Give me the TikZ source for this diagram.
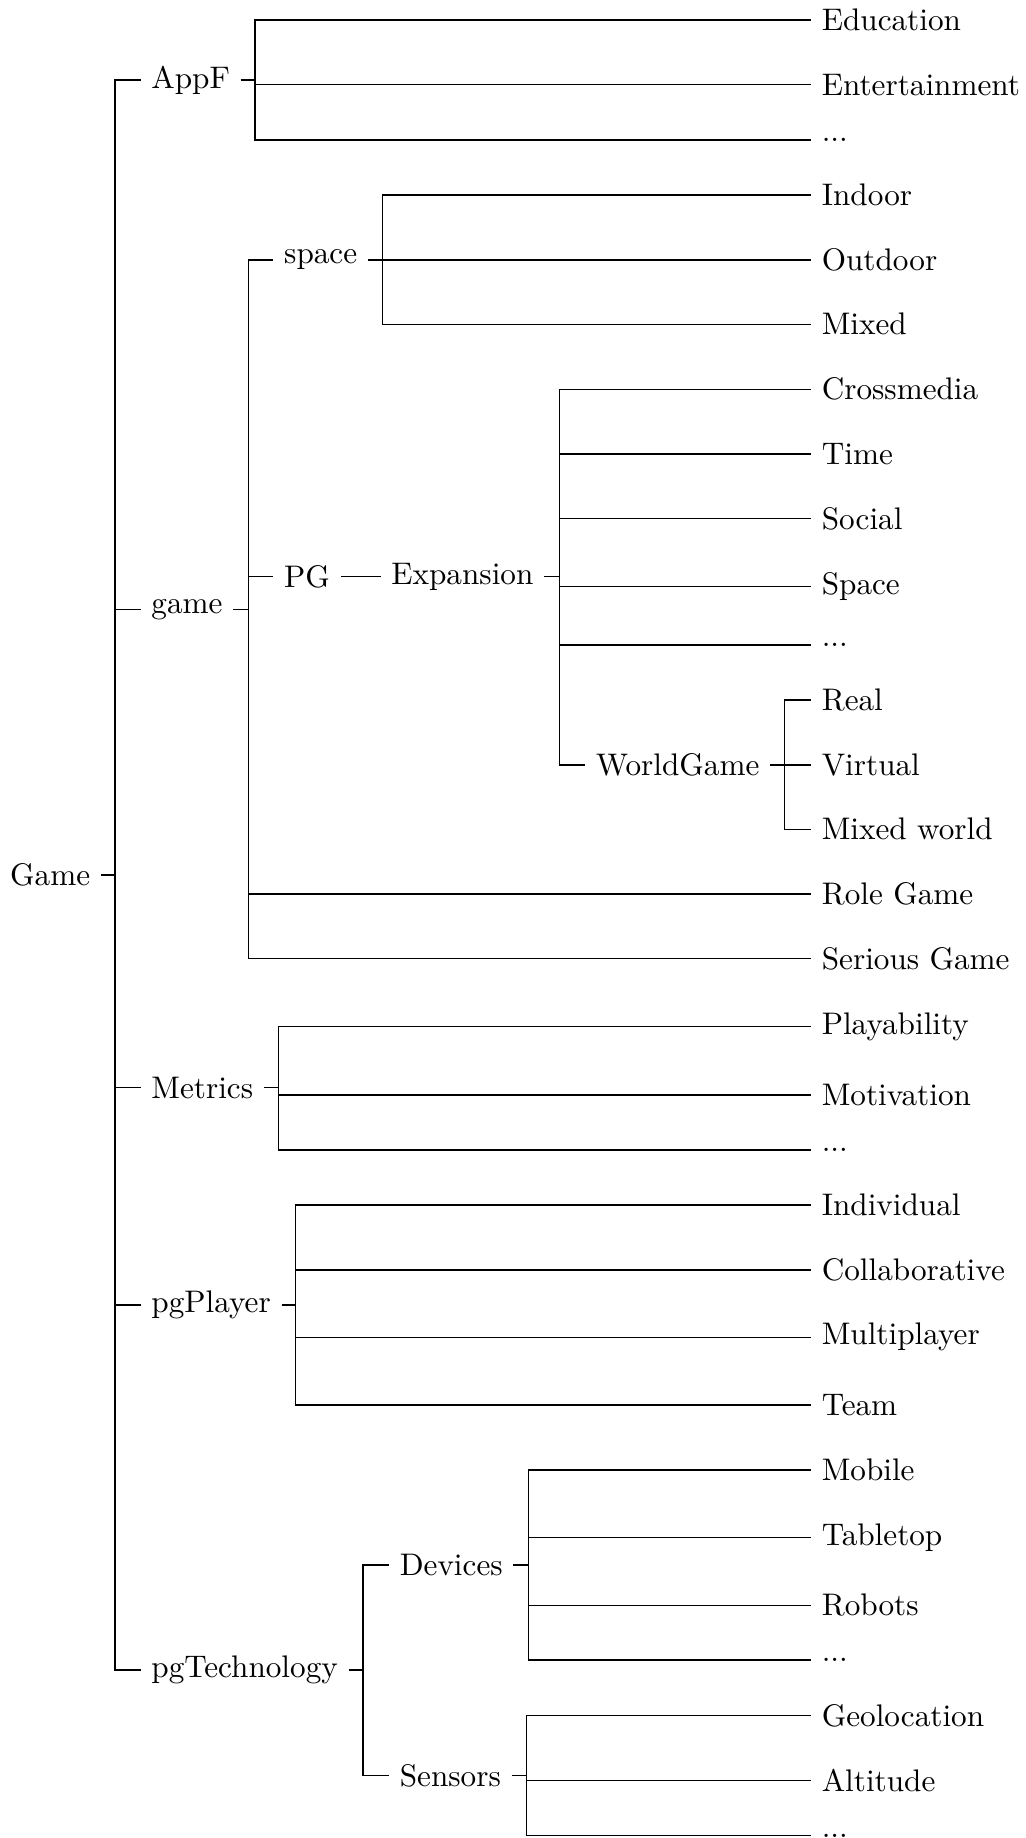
\documentclass[tikz,border=0pt]{standalone}
\begin{document}
\begin{tikzpicture}[x=0.3268pt, y=-0.3268pt,
  font=\fontsize{10.2}{12.2}\selectfont,
  lbl/.style={anchor=west, inner sep=3.33pt},
  link/.style={draw=black, line width=0.4pt}]
\useasboundingbox (0,0) rectangle (1025,1838);

% root
\node[anchor=east, inner sep=3.33pt] (root) at (101,875) {Game};
\coordinate (bRoot) at (115,875);

% first level
\node[lbl] (appf)   at (140.6,80)     {AppF};
\node[lbl] (gamen)  at (140.6,609.3)  {game};
\node[lbl] (metr)   at (140.6,1087.7) {Metrics};
\node[lbl] (player) at (140.6,1305)   {pgPlayer};
\node[lbl] (tech)   at (140.6,1670)   {pgTechnology};

% AppF
\coordinate (bAppf) at (255,80);
\node[lbl] (edu)  at (811,20)    {Education};
\node[lbl] (ent)  at (811,84.7)  {Entertainment};
\node[lbl] (appd) at (811,140)   {...};

% game
\coordinate (bGame) at (248.5,609.3);
\node[lbl] (space) at (273.4,260)   {space};
\node[lbl] (pg)    at (273.4,576.7) {PG};
\node[lbl] (role)  at (811,894)     {Role Game};
\node[lbl] (ser)   at (811,958.7)   {Serious Game};

% space
\coordinate (bSpace) at (382.6,260);
\node[lbl] (indoor)  at (811,195)   {Indoor};
\node[lbl] (outdoor) at (811,260)   {Outdoor};
\node[lbl] (mixed)   at (811,324.3) {Mixed};

% PG / Expansion
\node[lbl] (exp) at (380.6,576.7) {Expansion};
\coordinate (bExp) at (559.8,576.7);
\node[lbl] (cross)  at (811,389.3) {Crossmedia};
\node[lbl] (time)   at (811,454)   {Time};
\node[lbl] (social) at (811,518.7) {Social};
\node[lbl] (spc)    at (811,586.7) {Space};
\node[lbl] (expd)   at (811,645)   {...};
\node[lbl] (world)  at (585.3,765) {WorldGame};

% WorldGame
\coordinate (bWorld) at (784.5,765);
\node[lbl] (real)    at (811,700)   {Real};
\node[lbl] (virtual) at (811,765)   {Virtual};
\node[lbl] (mworld)  at (811,829.3) {Mixed world};

% Metrics
\coordinate (bMetr) at (278.6,1087.7);
\node[lbl] (play)  at (811,1026.7) {Playability};
\node[lbl] (motiv) at (811,1095)   {Motivation};
\node[lbl] (metd)  at (811,1150)   {...};

% pgPlayer
\coordinate (bPlayer) at (295.6,1305);
\node[lbl] (indiv)  at (811,1205)   {Individual};
\node[lbl] (collab) at (811,1270)   {Collaborative};
\node[lbl] (multi)  at (811,1337.3) {Multiplayer};
\node[lbl] (team)   at (811,1405)   {Team};

% pgTechnology
\coordinate (bTech) at (363,1670);
\node[lbl] (dev)  at (389,1565)   {Devices};
\node[lbl] (sens) at (389,1775.7) {Sensors};

% Devices
\coordinate (bDev) at (528.5,1565);
\node[lbl] (mobile) at (811,1470)   {Mobile};
\node[lbl] (table)  at (811,1537.7) {Tabletop};
\node[lbl] (robots) at (811,1605.3) {Robots};
\node[lbl] (devd)   at (811,1660)   {...};

% Sensors
\coordinate (bSens) at (526.5,1775.7);
\node[lbl] (geo)  at (811,1715.7) {Geolocation};
\node[lbl] (alt)  at (811,1780.7) {Altitude};
\node[lbl] (send) at (811,1835.7) {...};

% connectors: parent stub to its bus, then bus to each child
\draw[link] (root.east) -- (bRoot);
\foreach \c in {appf,gamen,metr,player,tech} \draw[link] (bRoot) |- (\c.west);

\draw[link] (appf.east) -- (bAppf);
\foreach \c in {edu,ent,appd} \draw[link] (bAppf) |- (\c.west);

\draw[link] (gamen.east) -- (bGame);
\foreach \c in {space,pg,role,ser} \draw[link] (bGame) |- (\c.west);

\draw[link] (space.east) -- (bSpace);
\foreach \c in {indoor,outdoor,mixed} \draw[link] (bSpace) |- (\c.west);

\draw[link] (pg.east) -- (exp.west);

\draw[link] (exp.east) -- (bExp);
\foreach \c in {cross,time,social,spc,expd,world} \draw[link] (bExp) |- (\c.west);

\draw[link] (world.east) -- (bWorld);
\foreach \c in {real,virtual,mworld} \draw[link] (bWorld) |- (\c.west);

\draw[link] (metr.east) -- (bMetr);
\foreach \c in {play,motiv,metd} \draw[link] (bMetr) |- (\c.west);

\draw[link] (player.east) -- (bPlayer);
\foreach \c in {indiv,collab,multi,team} \draw[link] (bPlayer) |- (\c.west);

\draw[link] (tech.east) -- (bTech);
\foreach \c in {dev,sens} \draw[link] (bTech) |- (\c.west);

\draw[link] (dev.east) -- (bDev);
\foreach \c in {mobile,table,robots,devd} \draw[link] (bDev) |- (\c.west);

\draw[link] (sens.east) -- (bSens);
\foreach \c in {geo,alt,send} \draw[link] (bSens) |- (\c.west);
\end{tikzpicture}
\end{document}
